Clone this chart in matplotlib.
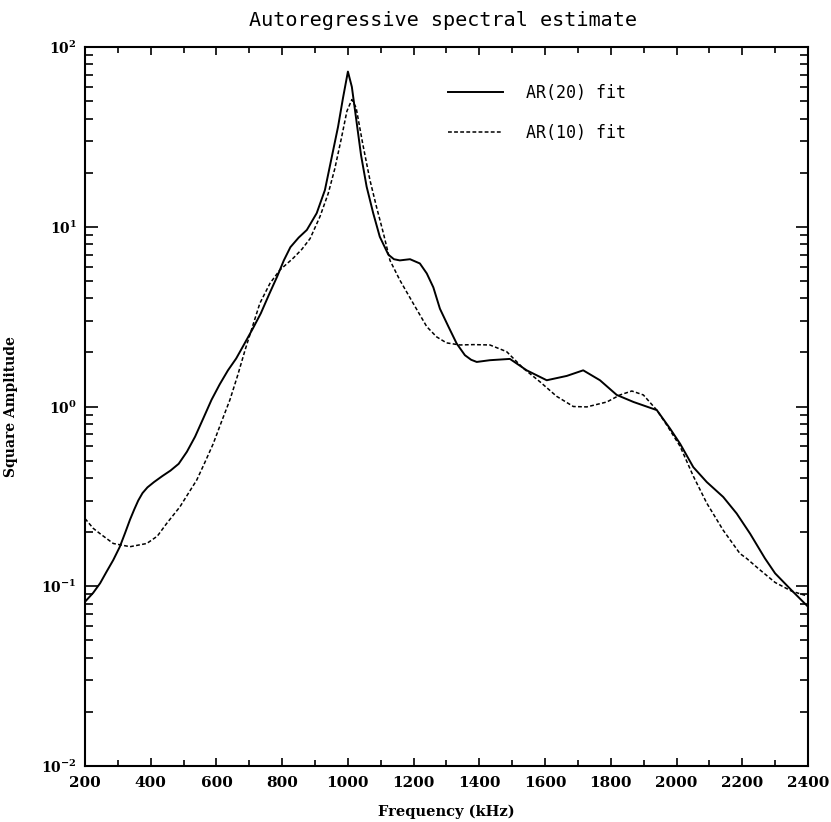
import matplotlib
matplotlib.use("Agg")
import matplotlib.pyplot as plt
from matplotlib.ticker import MultipleLocator, LogLocator, FixedLocator, NullFormatter

# AR(20) fit, solid line (frequency in kHz, square amplitude)
ar20_freq = [200, 225, 246, 265, 286, 306, 322, 337, 350, 362, 375, 390, 410, 435, 460,
             485, 510, 535, 560, 585, 610, 635, 660, 680, 710, 735, 760, 785, 805, 825,
             850, 875, 905, 930, 950, 970, 985, 1000, 1012, 1025, 1040, 1057, 1077, 1097,
             1123, 1140, 1158, 1189, 1219, 1240, 1260, 1280, 1306, 1331, 1356, 1375, 1392,
             1432, 1493, 1544, 1605, 1666, 1716, 1767, 1818, 1869, 1940, 1980, 2011, 2051,
             2092, 2142, 2183, 2224, 2269, 2300, 2350, 2400]
ar20_amp = [0.082, 0.092, 0.104, 0.12, 0.14, 0.166, 0.198, 0.235, 0.268, 0.30, 0.33,
            0.355, 0.38, 0.41, 0.44, 0.48, 0.56, 0.68, 0.86, 1.09, 1.33, 1.59, 1.85, 2.15,
            2.7, 3.3, 4.2, 5.3, 6.5, 7.7, 8.7, 9.6, 11.9, 16, 24, 36, 52, 73, 60, 40, 25,
            16.7, 11.9, 8.8, 7.0, 6.6, 6.5, 6.6, 6.25, 5.5, 4.6, 3.5, 2.78, 2.24, 1.93,
            1.82, 1.77, 1.81, 1.84, 1.59, 1.40, 1.48, 1.59, 1.40, 1.16, 1.06, 0.955, 0.755,
            0.62, 0.46, 0.38, 0.314, 0.254, 0.196, 0.143, 0.118, 0.095, 0.077]

# AR(10) fit, dashed line
ar10_freq = [200, 225, 246, 286, 337, 388, 420, 448, 489, 515, 540, 565, 590, 615,
             641, 665, 687, 710, 732, 763, 793, 834, 860, 885, 915, 940, 960, 980,
             997, 1012, 1025, 1045, 1067, 1087, 1108, 1128, 1158, 1199, 1240, 1270,
             1300, 1341, 1382, 1432, 1483, 1534, 1585, 1635, 1686, 1727, 1788, 1828,
             1864, 1899, 1940, 1970, 2011, 2051, 2092, 2142, 2193, 2213, 2250, 2300,
             2350, 2400]
ar10_amp = [0.238, 0.21, 0.196, 0.173, 0.166, 0.173, 0.19, 0.223, 0.277, 0.33, 0.39,
            0.49, 0.62, 0.82, 1.09, 1.5, 2.06, 2.8, 3.75, 4.85, 5.75, 6.7, 7.5, 8.6,
            11.4, 15.3, 21, 31, 44, 51, 46, 29, 18.2, 12.9, 9.2, 6.5, 5.05, 3.74, 2.78,
            2.44, 2.26, 2.2, 2.21, 2.2, 2.02, 1.63, 1.37, 1.14, 1.0, 0.995, 1.06, 1.16,
            1.22, 1.16, 0.955, 0.79, 0.60, 0.41, 0.29, 0.205, 0.152, 0.143, 0.125,
            0.105, 0.094, 0.088]

xticks = [200, 400, 600, 800, 1000, 1200, 1400, 1600, 1800, 2000, 2200, 2400]
yticks = [1e-2, 1e-1, 1e0, 1e1, 1e2]
ytick_labels = [r"$\mathbf{10^{-2}}$", r"$\mathbf{10^{-1}}$", r"$\mathbf{10^{0}}$",
                r"$\mathbf{10^{1}}$", r"$\mathbf{10^{2}}$"]

plt.rcParams["mathtext.fontset"] = "dejavuserif"

fig = plt.figure(figsize=(8.31, 8.22), dpi=100)
ax = fig.add_axes([0.1023, 0.0681, 0.8700, 0.8747])

ax.plot(ar20_freq, ar20_amp, color="black", lw=1.4, solid_joinstyle="round", label="AR(20) fit")
ax.plot(ar10_freq, ar10_amp, color="black", lw=1.1, linestyle=(0, (2.5, 1.5)), label="AR(10) fit")

ax.set_yscale("log")
ax.set_xlim(200, 2400)
ax.set_ylim(1e-2, 1e2)

ax.xaxis.set_major_locator(FixedLocator(xticks))
ax.xaxis.set_minor_locator(MultipleLocator(100))
ax.yaxis.set_major_locator(FixedLocator(yticks))
ax.yaxis.set_minor_locator(LogLocator(base=10, subs=range(2, 10)))
ax.yaxis.set_minor_formatter(NullFormatter())
ax.set_yticklabels(ytick_labels, fontsize=10)
ax.set_xticklabels([str(t) for t in xticks], fontsize=11, family="DejaVu Serif", weight="bold")

ax.tick_params(which="both", direction="in", top=True, right=True, width=1.2)
ax.tick_params(axis="x", which="major", length=6)
ax.tick_params(axis="x", which="minor", length=4)
ax.tick_params(axis="y", which="major", length=9)
ax.tick_params(axis="y", which="minor", length=6)
ax.tick_params(axis="x", pad=7)
ax.tick_params(axis="y", pad=6)
for sp in ax.spines.values():
    sp.set_linewidth(1.5)

ax.set_xlabel("Frequency (kHz)", fontsize=10.5, family="DejaVu Serif", weight="bold")
ax.set_ylabel("Square Amplitude", fontsize=10, family="DejaVu Serif", weight="bold")
ax.xaxis.set_label_coords(0.5, -0.054)
ax.yaxis.set_label_coords(-0.093, 0.5)

fig.text(0.533, 1 - 20 / 822, "Autoregressive spectral estimate", ha="center", va="center",
         fontsize=14.5, family="DejaVu Sans Mono")

ax.legend(loc="upper left", bbox_to_anchor=(0.481, 0.969), frameon=False, handlelength=3.3,
          handletextpad=1.4, labelspacing=1.3, prop={"family": "DejaVu Sans Mono", "size": 12})

fig.savefig("out.png", dpi=100)
